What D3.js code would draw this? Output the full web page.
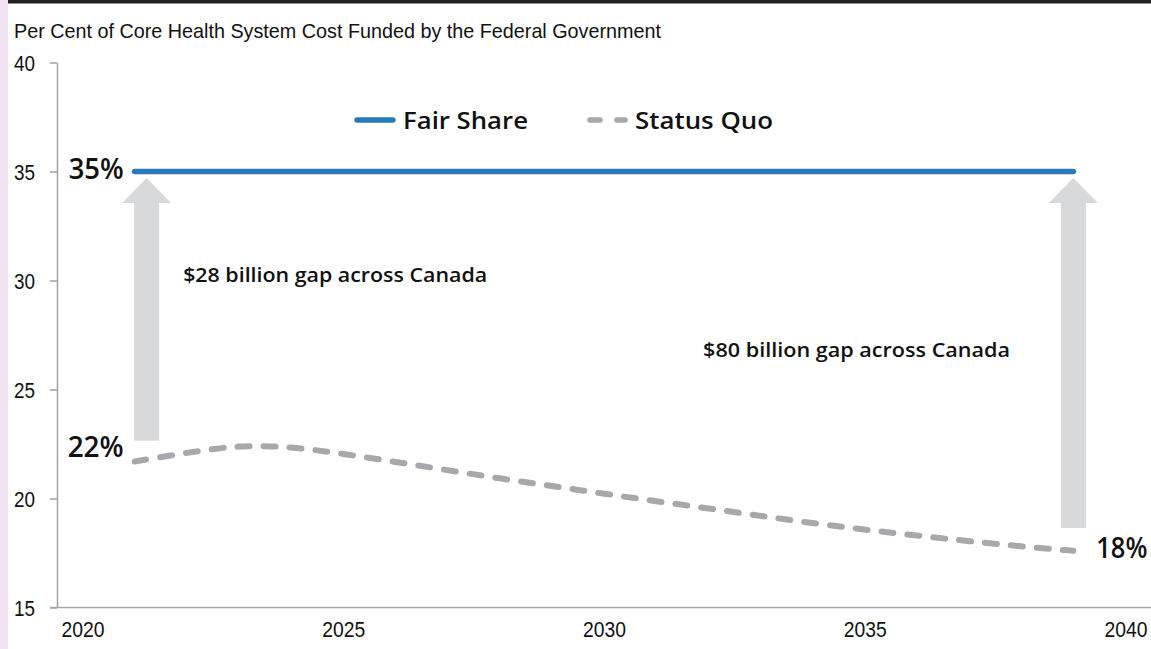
<!DOCTYPE html>
<html><head><meta charset="utf-8">
<script src="https://cdn.jsdelivr.net/npm/d3@7"></script>
<style>
html,body{margin:0;padding:0;background:#fff;}
svg{display:block;}
</style></head>
<body>
<script>
// ---- data ----
const years = [2021,2022,2023,2024,2025,2026,2027,2028,2029,2030,2031,2032,2033,2034,2035,2036,2037,2038,2039];
const fairShare = [35,35,35,35,35,35,35,35,35,35,35,35,35,35,35,35,35,35,35];
const statusQuo = [21.7,22.1,22.45,22.38,22.05,21.68,21.3,20.92,20.57,20.22,19.87,19.55,19.2,18.87,18.57,18.3,18.04,17.8,17.6];
const yTicks = [15,20,25,30,35,40];
const xTicks = [2020,2025,2030,2035,2040];
const seriesNames = ["Fair Share","Status Quo"];
const title = "Per Cent of Core Health System Cost Funded by the Federal Government";
const arrowYears = [2021.23, 2039];
const arrowFrom = [22.65, 18.65];
const arrowTo = [34.7, 34.7];
const gapLabels = ["$28 billion gap across Canada","$80 billion gap across Canada"];
const gapLabelPos = [[2021.93, 29.93],[2031.9, 26.49]];
const endLabels = [
  {text:"35%", year:2021, value:35.13, side:"left"},
  {text:"22%", year:2021, value:22.35, side:"left"},
  {text:"18%", year:2039, value:17.73, side:"right"}
];

const W = 1151, H = 649;
const svg = d3.select("body").append("svg").attr("width",W).attr("height",H);

const x = d3.scaleLinear().domain([2020,2040]).range([82.5,1125.5]);
const y = d3.scaleLinear().domain([15,40]).range([607.5,62.5]);
const axisX0 = 57;

const blue = "#2a79b9", grey = "#a7a8ac", arrowGrey = "#d8d9db";
const narrow = "'Liberation Sans Narrow','Arial Narrow','Liberation Sans',Arial,sans-serif";
const geo = "'Open Sans',Lato,sans-serif";

// fit a text element to a target width
function fit(sel, w){ sel.attr("textLength", w).attr("lengthAdjust","spacingAndGlyphs"); }

// pink strip and top bar
svg.append("rect").attr("x",0).attr("y",0).attr("width",8).attr("height",H).attr("fill","#f1e3f1");
svg.append("rect").attr("x",8).attr("y",0).attr("width",W-8).attr("height",3.5).attr("fill","#231f20");

// title
svg.append("text").attr("x",14).attr("y",38).attr("font-family",narrow).attr("font-size",21)
  .attr("fill","#111").text(title).call(fit, 647);

// y axis
const yAxis = d3.axisLeft(y).tickValues(yTicks).tickSize(7).tickPadding(15).tickSizeOuter(0);
const gy = svg.append("g").attr("transform",`translate(${axisX0},0)`).call(yAxis);
gy.select(".domain").attr("stroke","#a5a5a5").attr("stroke-width",1.6);
gy.selectAll(".tick line").attr("stroke","#a5a5a5").attr("stroke-width",1.6);
gy.selectAll(".tick text").attr("font-family",narrow).attr("font-size",21.5).attr("fill","#111").attr("dy","0.36em")
  .attr("textLength",21).attr("lengthAdjust","spacingAndGlyphs");

// x axis
const xAxis = d3.axisBottom(x).tickValues(xTicks).tickSize(0).tickPadding(14).tickFormat(d3.format("d"));
const gx = svg.append("g").attr("transform",`translate(0,${y(15)})`).call(xAxis);
gx.select(".domain").remove();
gx.append("line").attr("x1",axisX0-7).attr("x2",W).attr("y1",0).attr("y2",0).attr("stroke","#a5a5a5").attr("stroke-width",1.6);
gx.selectAll(".tick text").attr("font-family",narrow).attr("font-size",22).attr("fill","#111")
  .attr("textLength",43).attr("lengthAdjust","spacingAndGlyphs");

// arrows
arrowYears.forEach((yr,i)=>{
  const cx = x(yr), top = y(arrowTo[i]), bot = y(arrowFrom[i]);
  const hw = 12.5, headW = 24.5, headH = 25;
  const pts = [[cx-hw,bot],[cx-hw,top+headH],[cx-headW,top+headH],[cx,top],[cx+headW,top+headH],[cx+hw,top+headH],[cx+hw,bot]];
  svg.append("path").attr("d",d3.line()(pts)+"Z").attr("fill",arrowGrey);
});

// lines
const line = d3.line().x((d,i)=>x(years[i])).y(d=>y(d)).curve(d3.curveMonotoneX);
svg.append("path").datum(fairShare).attr("d",line).attr("fill","none").attr("stroke",blue)
  .attr("stroke-width",5.5).attr("stroke-linecap","round");
svg.append("path").datum(statusQuo).attr("d",line.curve(d3.curveBasis)).attr("fill","none").attr("stroke",grey)
  .attr("stroke-width",6).attr("stroke-linecap","round").attr("stroke-dasharray","12,14");

// legend
const lg = svg.append("g");
lg.append("line").attr("x1",357).attr("x2",393).attr("y1",120).attr("y2",120).attr("stroke",blue).attr("stroke-width",5.5).attr("stroke-linecap","round");
lg.append("text").attr("x",403).attr("y",129).attr("font-family",geo).attr("font-weight",600).attr("font-size",24).attr("fill","#111").text(seriesNames[0]).call(fit,125);
lg.append("line").attr("x1",590).attr("x2",625).attr("y1",120).attr("y2",120).attr("stroke",grey).attr("stroke-width",5.5).attr("stroke-linecap","round").attr("stroke-dasharray","10,17");
lg.append("text").attr("x",635).attr("y",129).attr("font-family",geo).attr("font-weight",600).attr("font-size",24).attr("fill","#111").text(seriesNames[1]).call(fit,138);

// gap labels
const gapW = [304, 307];
gapLabels.forEach((t,i)=>{
  svg.append("text").attr("x",x(gapLabelPos[i][0])).attr("y",y(gapLabelPos[i][1])).attr("font-family",geo)
    .attr("font-weight",600).attr("font-size",19.5).attr("fill","#111").text(t).call(fit, gapW[i]);
});

// end labels
const endW = [55, 56, 51];
endLabels.forEach((d,i)=>{
  svg.append("text").attr("x", d.side==="left" ? x(d.year)-11 : x(d.year)+23)
    .attr("y", y(d.value)).attr("dy","0.36em")
    .attr("text-anchor", d.side==="left" ? "end" : "start")
    .attr("font-family",geo).attr("font-weight",600).attr("font-size",28).attr("fill","#111").text(d.text).call(fit, endW[i]);
});
</script>
</body></html>
